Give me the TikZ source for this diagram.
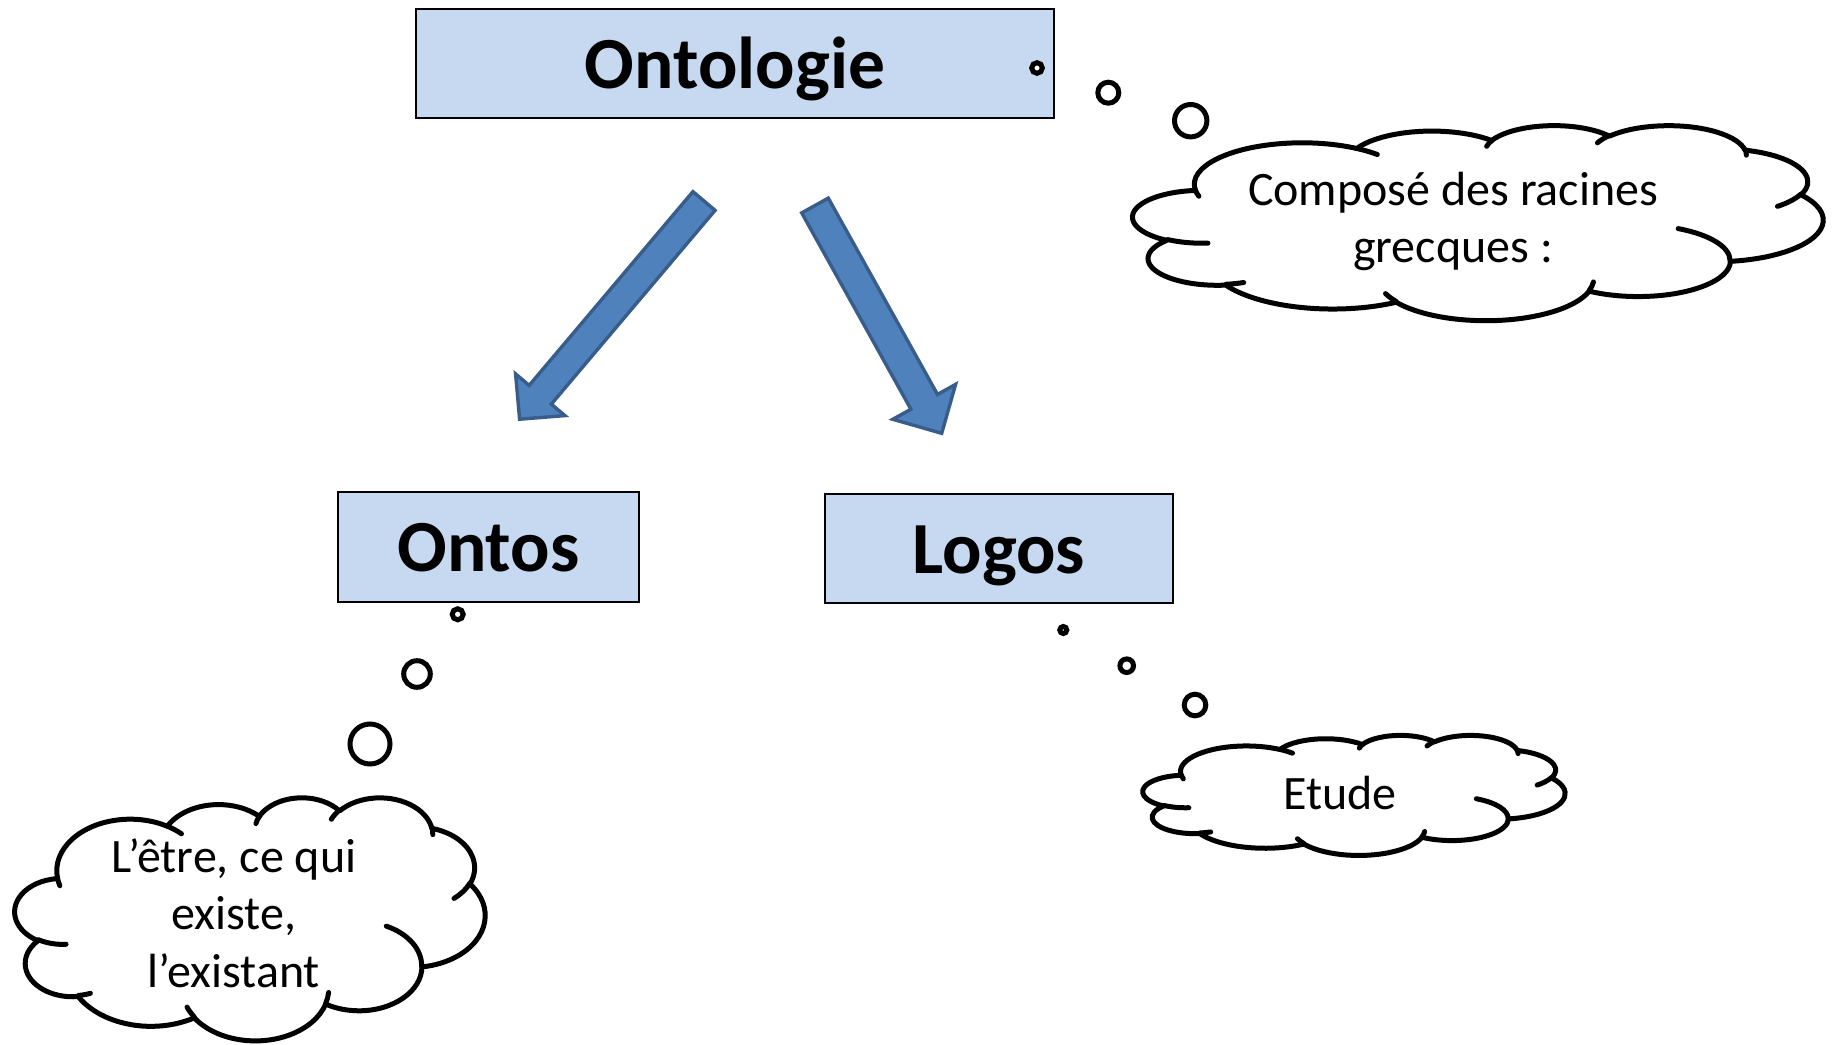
\documentclass[tikz,border=0pt]{standalone}
\usepackage{fontspec}
\setmainfont{Carlito}
\usetikzlibrary{calc}

\definecolor{boxblue}{HTML}{C6D9F1}
\definecolor{arrowfill}{HTML}{4F81BD}
\definecolor{arrowline}{HTML}{385D8A}

\newcommand\cloudarc[4]{%
  \pgfextra{%
    \pgfmathparse{atan2(#1*sin(#3),#2*cos(#3))}\global\let\cloudS\pgfmathresult
    \pgfmathparse{atan2(#1*sin(#3+#4),#2*cos(#3+#4))}\global\let\cloudE\pgfmathresult
    \pgfmathparse{mod(\cloudE-\cloudS+720,360)}\global\let\cloudD\pgfmathresult}%
  arc[x radius=#1, y radius=#2, start angle=\cloudS, delta angle=\cloudD]}

\newcommand\thought[5]{%
  \begin{scope}[shift={(#2,#3)}, xscale=#4/43.2, yscale=#5/43.2]
    \draw[CloudStyle, fill = white] (3.9,14.37) \cloudarc{6.753}{9.19}{-190.4875}{123.7805}
      \cloudarc{5.333}{7.267}{-144.1024}{89.9452}
      \cloudarc{4.365}{5.945}{-145.8079}{99.723}
      \cloudarc{4.857}{6.595}{-130.9861}{117.2417}
      \cloudarc{5.333}{7.273}{-78.7089}{109.0269}
      \cloudarc{6.775}{9.22}{-46.2673}{130.269}
      \cloudarc{5.785}{7.867}{0.625}{114.0333}
      \cloudarc{6.752}{9.215}{22.4516}{115.1726}
      \cloudarc{7.72}{10.543}{66.2426}{75.711}
      \cloudarc{4.36}{5.918}{-274.9421}{146.7356}
      \cloudarc{4.345}{5.945}{-246.8285}{152.5189} -- cycle;
    \draw[CloudStyle] (4.693,26.177) \cloudarc{4.345}{5.945}{86.742}{26.4295}
      (6.928,34.899) \cloudarc{4.36}{5.918}{73.6105}{11.4475}
      (16.478,39.09) \cloudarc{6.752}{9.215}{137.6242}{14.0811}
      (28.827,34.751) \cloudarc{6.752}{9.215}{6.4533}{15.9984}
      (34.129,22.954) \cloudarc{5.785}{7.867}{-70.2924}{70.9174}
      (41.798,15.354) \cloudarc{5.333}{7.273}{30.318}{27.7515}
      (38.324,5.426) \cloudarc{4.857}{6.595}{-13.7443}{14.8589}
      (29.078,3.952) \cloudarc{4.857}{6.595}{-149.1815}{18.1954}
      (22.141,4.72) \cloudarc{4.365}{5.945}{-163.4943}{17.6864}
      (14.0,5.192) \cloudarc{6.753}{9.19}{-66.707}{12.3194}
      (4.127,15.789) \cloudarc{6.753}{9.19}{157.6544}{11.8582};
    \coordinate (#1) at (21.6,21.6);
  \end{scope}}

\newcommand\blockarrow[5]{%
  \coordinate (#1h) at ($(#2)!#5!(#1)$);
  \draw[ArrowStyle] ($(#1)!#3!90:(#2)$) -- ($(#1h)!#3!90:(#2)$) -- ($(#1h)!#4!90:(#2)$) -- (#2)
    -- ($(#1h)!#4!-90:(#2)$) -- ($(#1h)!#3!-90:(#2)$) -- ($(#1)!#3!-90:(#2)$) -- cycle;}

\begin{document}
\begin{tikzpicture}[x = 1pt, y = -1pt]
\tikzstyle{BoxStyle}=[rectangle, draw, line width = 1.6pt, fill = boxblue,
                      inner sep = 0pt, text height = 59pt, text depth = 10pt,
                      font = \bfseries\fontsize{73.5}{88}\selectfont]
\tikzstyle{BubbleStyle}=[circle, draw, line width = 5pt, fill = white, inner sep = 0pt]
\tikzstyle{CloudStyle}=[draw, line width = 5pt, line join = round, line cap = round]
\tikzstyle{ArrowStyle}=[draw = arrowline, fill = arrowfill, line width = 3.4pt]
\tikzstyle{TextStyle}=[align = center, inner sep = 0pt, font = \fontsize{48}{57.5}\selectfont]
\path[use as bounding box, fill = white] (0,0) rectangle (1833,1044);
\node[BoxStyle, minimum width = 638pt, minimum height = 109pt] (b0) at (735, 63.5) {Ontologie};
\node[BoxStyle, minimum width = 301pt, minimum height = 110pt] (b1) at (488.5, 547) {Ontos};
\node[BoxStyle, minimum width = 348pt, minimum height = 109pt] (b2) at (999, 548.5) {Logos};
\coordinate (a0) at (704, 201);
\coordinate (a1) at (519.6, 419.2);
\coordinate (a2) at (815, 205.5);
\coordinate (a3) at (941.7, 433.3);
\blockarrow{a0}{a1}{14.5pt}{32.3pt}{32pt}
\blockarrow{a2}{a3}{15.2pt}{35.9pt}{36pt}
\node[BubbleStyle, minimum size = 10.6pt] (p0) at (1037, 68) {};
\node[BubbleStyle, minimum size = 21pt] (p1) at (1108.3, 92.7) {};
\node[BubbleStyle, minimum size = 32.4pt] (p2) at (1190.7, 120.7) {};
\node[BubbleStyle, minimum size = 11pt] (p3) at (457.7, 614.3) {};
\node[BubbleStyle, minimum size = 26.6pt] (p4) at (417, 674) {};
\node[BubbleStyle, minimum size = 40pt] (p5) at (370, 744) {};
\node[BubbleStyle, minimum size = 7pt] (p6) at (1063.3, 630) {};
\node[BubbleStyle, minimum size = 13.6pt] (p7) at (1126.7, 665.7) {};
\node[BubbleStyle, minimum size = 21.6pt] (p8) at (1195, 705) {};
\thought{c0}{1133}{125}{690}{195}
\thought{c1}{15}{797}{470}{243}
\thought{c2}{1143}{735}{422}{120}
\node[TextStyle] (t0) at (1453, 221.5) {Composé des racines\\grecques :};
\node[TextStyle] (t1) at (234, 913) {L’être, ce qui\\existe,\\l’existant};
\node[TextStyle] (t2) at (1340, 793) {Etude};
\end{tikzpicture}
\end{document}
